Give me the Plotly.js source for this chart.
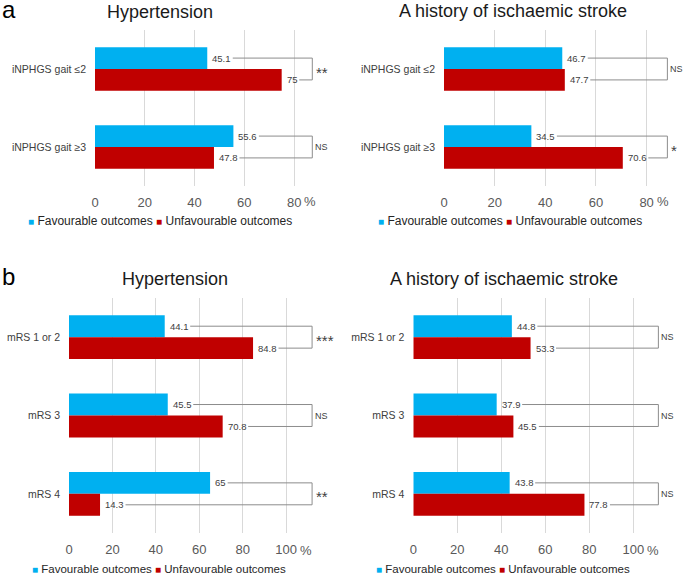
<!DOCTYPE html>
<html>
<head>
<meta charset="utf-8">
<script src="https://cdn.plot.ly/plotly-3.0.1.min.js"></script>
<style>
  body { margin: 0; background: #fff; }
  #chart { width: 685px; height: 575px; }
</style>
</head>
<body>
<div id="chart"></div>
<script>
// categories
var catsA = ["iNPHGS gait ≤2", "iNPHGS gait ≥3"];
var catsB = ["mRS 1 or 2", "mRS 3", "mRS 4"];

// panel a
var aHypFav = [45.1, 55.6];
var aHypUnfav = [75, 47.8];
var aHypSig = ["**", "NS"];
var aStrokeFav = [46.7, 34.5];
var aStrokeUnfav = [47.7, 70.6];
var aStrokeSig = ["NS", "*"];

// panel b
var bHypFav = [44.1, 45.5, 65];
var bHypUnfav = [84.8, 70.8, 14.3];
var bHypSig = ["***", "NS", "**"];
var bStrokeFav = [44.8, 37.9, 43.8];
var bStrokeUnfav = [53.3, 45.5, 77.8];
var bStrokeSig = ["NS", "NS", "NS"];

// tick labels
var ticksA = [0, 20, 40, 60, 80];
var ticksB = [0, 20, 40, 60, 80, 100];

var W = 685, H = 575;
var FONT = "Liberation Sans, Arial, sans-serif";
var BLUE = "#00b0f0", RED = "#c00000";
var BAR_W = 0.28;

// pixel boxes of each subplot
var panels = [
  { id: "", cats: catsA, fav: aHypFav, unfav: aHypUnfav, sig: aHypSig, ticks: ticksA,
    xmax: 92, left: 95, right: 324, top: 30, bottom: 186, bracket: 87.3,
    title: "Hypertension", titleX: 160, titleY: 12, tickY: 201, legendX: 160, legendY: 221, legendSize: 12 },
  { id: "2", cats: catsA, fav: aStrokeFav, unfav: aStrokeUnfav, sig: aStrokeSig, ticks: ticksA,
    xmax: 92, left: 444, right: 677, top: 30, bottom: 186, bracket: 88.2,
    title: "A history of ischaemic stroke", titleX: 513, titleY: 11, tickY: 201, legendX: 510, legendY: 221, legendSize: 12 },
  { id: "3", cats: catsB, fav: bHypFav, unfav: bHypUnfav, sig: bHypSig, ticks: ticksB,
    xmax: 115, left: 69, right: 318.6, top: 298, bottom: 533, bracket: 112,
    title: "Hypertension", titleX: 175, titleY: 279, tickY: 550, legendX: 159, legendY: 569, legendSize: 11.5 },
  { id: "4", cats: catsB, fav: bStrokeFav, unfav: bStrokeUnfav, sig: bStrokeSig, ticks: ticksB,
    xmax: 115, left: 413.3, right: 666.3, top: 298, bottom: 533, bracket: 111.4,
    title: "A history of ischaemic stroke", titleX: 504, titleY: 279, tickY: 550, legendX: 503, legendY: 569, legendSize: 11.5 }
];

// rough Arial width of a number label
function labelWidth(v, size) {
  var s = String(v), w = 0;
  for (var i = 0; i < s.length; i++) w += s[i] === "." ? 0.278 : 0.556;
  return w * size;
}

var data = [];
var shapes = [];
var annotations = [];
var layout = {
  width: W, height: H,
  margin: { l: 0, r: 0, t: 0, b: 0 },
  paper_bgcolor: "#fff", plot_bgcolor: "#fff",
  font: { family: FONT, color: "#404040" },
  showlegend: false,
  barmode: "overlay"
};

panels.forEach(function (p) {
  var xa = "x" + p.id, ya = "y" + p.id;
  var ppu = (p.right - p.left) / p.xmax;

  data.push({ type: "bar", orientation: "h", name: "Favourable outcomes",
    x: p.fav, y: p.cats, xaxis: xa, yaxis: ya, width: BAR_W, offset: -BAR_W,
    marker: { color: BLUE } });
  data.push({ type: "bar", orientation: "h", name: "Unfavourable outcomes",
    x: p.unfav, y: p.cats, xaxis: xa, yaxis: ya, width: BAR_W, offset: 0,
    marker: { color: RED } });

  layout["xaxis" + p.id] = {
    domain: [p.left / W, p.right / W], range: [0, p.xmax], anchor: ya,
    tickvals: p.ticks, ticks: "", showline: false, zeroline: false,
    showgrid: true, gridcolor: "#d9d9d9", gridwidth: 1, ticklabelstandoff: 7,
    tickfont: { size: 13, color: "#595959" }, fixedrange: true
  };
  layout["yaxis" + p.id] = {
    domain: [1 - p.bottom / H, 1 - p.top / H], type: "category", anchor: xa,
    range: [p.cats.length - 0.5, -0.5], ticks: "", showline: false,
    showgrid: false, zeroline: false, ticklabelstandoff: 8,
    tickfont: { size: 10.5, color: "#404040" }, fixedrange: true
  };

  // value labels and significance brackets
  p.cats.forEach(function (c, i) {
    var yb = i - BAR_W / 2, yr = i + BAR_W / 2;
    [[p.fav[i], yb], [p.unfav[i], yr]].forEach(function (pair) {
      var v = pair[0], yy = pair[1];
      annotations.push({ xref: xa, yref: ya, x: v, y: yy, text: String(v),
        showarrow: false, xanchor: "left", xshift: 4, borderpad: 0,
        font: { size: 9.5, color: "#404040" } });
      var start = v + (4 + labelWidth(v, 9.5) + 3) / ppu;
      shapes.push({ type: "line", xref: xa, yref: ya, x0: start, x1: p.bracket,
        y0: yy, y1: yy, line: { color: "#8c8c8c", width: 1 } });
    });
    shapes.push({ type: "line", xref: xa, yref: ya, x0: p.bracket, x1: p.bracket,
      y0: yb, y1: yr, line: { color: "#8c8c8c", width: 1 } });
    var star = p.sig[i] !== "NS";
    annotations.push({ xref: xa, yref: ya, x: p.bracket, y: i, text: p.sig[i],
      showarrow: false, xanchor: "left", xshift: star ? 2 : 1, yshift: star ? -3 : 0,
      font: { size: star ? 15 : 9, color: "#404040" } });
  });

  // "%" after the last tick
  var last = p.ticks[p.ticks.length - 1];
  annotations.push({ xref: xa, yref: "paper", x: last, y: 1 - p.tickY / H, text: "%",
    showarrow: false, xanchor: "left", yanchor: "middle",
    xshift: labelWidth(last, 13) / 2 + 1, font: { size: 13, color: "#595959" } });

  // title
  annotations.push({ xref: "paper", yref: "paper", x: p.titleX / W, y: 1 - p.titleY / H,
    text: p.title, showarrow: false, xanchor: "center", yanchor: "middle",
    font: { size: 18, color: "#1a1a1a" } });

  // legend line
  annotations.push({ xref: "paper", yref: "paper", x: p.legendX / W, y: 1 - p.legendY / H,
    text: '<span style="color:' + BLUE + ';font-size:10px">■</span> Favourable outcomes ' +
          '<span style="color:' + RED + ';font-size:10px">■</span> Unfavourable outcomes',
    showarrow: false, xanchor: "center", yanchor: "middle",
    font: { size: p.legendSize, color: "#262626" } });
});

// panel letters
annotations.push({ xref: "paper", yref: "paper", x: 0, y: 1, text: "a",
  showarrow: false, xanchor: "left", yanchor: "top", yshift: 6, font: { size: 24, color: "#000" } });
annotations.push({ xref: "paper", yref: "paper", x: 0, y: 1 - 276 / H, text: "b",
  showarrow: false, xanchor: "left", yanchor: "middle", font: { size: 24, color: "#000" } });

layout.shapes = shapes;
layout.annotations = annotations;

Plotly.newPlot("chart", data, layout, { displayModeBar: false, staticPlot: true });
</script>
</body>
</html>
